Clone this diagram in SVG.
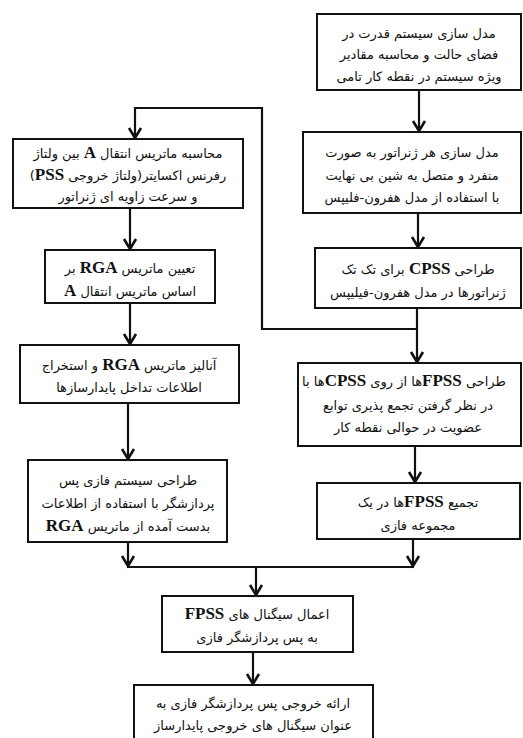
<svg xmlns="http://www.w3.org/2000/svg" width="523" height="738" viewBox="0 0 523 738">
<defs>
<marker id="arr" markerUnits="userSpaceOnUse" markerWidth="14" markerHeight="14" viewBox="-12 -7 14 14" refX="0" refY="0" orient="auto" overflow="visible">
<path d="M-10,-6 L0,0 L-10,6" fill="none" stroke="#111" stroke-width="2.6"/>
</marker>
</defs>
<style>
.box{fill:#fff;stroke:#111;stroke-width:2}
.ln{fill:none;stroke:#111;stroke-width:2.2}
.t{font-family:"DejaVu Sans",sans-serif;font-size:13px;fill:#111;text-anchor:middle;direction:rtl}
.l{font-family:"Liberation Serif",serif;font-weight:bold;font-size:17px}
</style>
<rect width="523" height="738" fill="#fff"/>
<g id="connectors">
<line class="ln" x1="419" y1="90" x2="419" y2="131" marker-end="url(#arr)"/>
<line class="ln" x1="418" y1="213" x2="418" y2="247" marker-end="url(#arr)"/>
<line class="ln" x1="417" y1="308" x2="417" y2="362" marker-end="url(#arr)"/>
<polyline class="ln" points="417,329 262,329 262,108 135,108 135,138" marker-end="url(#arr)"/>
<line class="ln" x1="130" y1="208" x2="130" y2="249" marker-end="url(#arr)"/>
<line class="ln" x1="130" y1="303" x2="130" y2="344" marker-end="url(#arr)"/>
<line class="ln" x1="128" y1="403" x2="128" y2="459" marker-end="url(#arr)"/>
<line class="ln" x1="415" y1="446" x2="415" y2="482" marker-end="url(#arr)"/>
<line class="ln" x1="128" y1="542" x2="128" y2="566" marker-end="url(#arr)"/>
<line class="ln" x1="413" y1="539" x2="413" y2="566" marker-end="url(#arr)"/>
<line class="ln" x1="127" y1="567" x2="414" y2="567"/>
<line class="ln" x1="256" y1="567" x2="256" y2="595" marker-end="url(#arr)"/>
<line class="ln" x1="253" y1="652" x2="253" y2="684" marker-end="url(#arr)"/>
</g>
<g id="r1">
<rect class="box" x="317" y="14" width="204" height="76"/>
<text class="t" x="419" y="38">مدل سازی سیستم قدرت در</text>
<text class="t" x="419" y="59">فضای حالت و محاسبه مقادیر</text>
<text class="t" x="419" y="81">ویژه سیستم در نقطه کار تامی</text>
</g>
<g id="r2">
<rect class="box" x="303" y="132" width="218" height="81"/>
<text class="t" x="412" y="157">مدل سازی هر ژنراتور به صورت</text>
<text class="t" x="412" y="180">منفرد و متصل به شین بی نهایت</text>
<text class="t" x="412" y="202">با استفاده از مدل هفرون-فلیپس</text>
</g>
<g id="r3">
<rect class="box" x="315" y="248" width="206" height="60"/>
<text class="t" x="418" y="274">طراحی <tspan class="l">CPSS</tspan> برای تک تک</text>
<text class="t" x="418" y="297">ژنراتورها در مدل هفرون-فیلیپس</text>
</g>
<g id="r4">
<rect class="box" x="298" y="363" width="223" height="83"/>
<text class="t" x="404" y="386">طراحی <tspan class="l">FPSS</tspan>ها از روی <tspan class="l">CPSS</tspan>ها با</text>
<text class="t" x="408" y="410">در نظر گرفتن تجمع پذیری توابع</text>
<text class="t" x="408" y="432">عضویت در حوالی نقطه کار</text>
</g>
<g id="r5">
<rect class="box" x="317" y="483" width="203" height="56"/>
<text class="t" x="418" y="507">تجمیع <tspan class="l">FPSS</tspan>ها در یک</text>
<text class="t" x="418" y="530">مجموعه فازی</text>
</g>
<g id="l1">
<rect class="box" x="13" y="139" width="230" height="69"/>
<text class="t" x="128" y="158">محاسبه ماتریس انتقال <tspan class="l">A</tspan> بین ولتاژ</text>
<text class="t" x="128" y="180">رفرنس اکسایتر(ولتاژ خروجی <tspan class="l">PSS</tspan>)</text>
<text class="t" x="128" y="201">و سرعت زاویه ای ژنراتور</text>
</g>
<g id="l2">
<rect class="box" x="45" y="250" width="170" height="53"/>
<text class="t" x="130" y="273">تعیین ماتریس <tspan class="l">RGA</tspan> بر</text>
<text class="t" x="130" y="296">اساس ماتریس انتقال <tspan class="l">A</tspan></text>
</g>
<g id="l3">
<rect class="box" x="20" y="345" width="219" height="58"/>
<text class="t" x="129" y="370">آنالیز ماتریس <tspan class="l">RGA</tspan> و استخراج</text>
<text class="t" x="129" y="392">اطلاعات تداخل پایدارسازها</text>
</g>
<g id="l4">
<rect class="box" x="28" y="460" width="199" height="82"/>
<text class="t" x="128" y="485">طراحی سیستم فازی پس</text>
<text class="t" x="128" y="508">پردازشگر با استفاده از اطلاعات</text>
<text class="t" x="128" y="531">بدست آمده از ماتریس <tspan class="l">RGA</tspan></text>
</g>
<g id="b1">
<rect class="box" x="162" y="596" width="191" height="56"/>
<text class="t" x="257" y="619">اعمال سیگنال های <tspan class="l">FPSS</tspan></text>
<text class="t" x="257" y="642">به پس پردازشگر فازی</text>
</g>
<g id="b2">
<rect class="box" x="134" y="685" width="239" height="70"/>
<text class="t" x="253" y="708">ارائه خروجی پس پردازشگر فازی به</text>
<text class="t" x="253" y="730">عنوان سیگنال های خروجی پایدارساز</text>
</g>
</svg>
